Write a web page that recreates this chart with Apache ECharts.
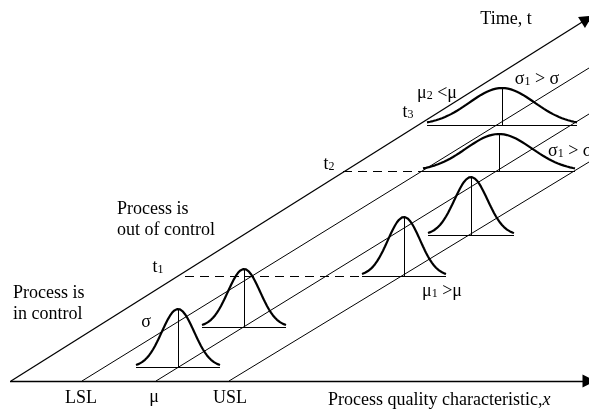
<!DOCTYPE html>
<html><head><meta charset="utf-8">
<script src="https://cdn.jsdelivr.net/npm/echarts@6/dist/echarts.min.js"></script>
<style>html,body{margin:0;padding:0;background:#fff}#c{width:589px;height:411px}</style>
</head><body><div id="c"></div>
<script>
// ---- diagram data (in the diagram's own coordinate units) ----
const xAxisLine = [[10, 381], [589, 381]];
const timeAxisLine = [[11, 381], [587, 19]];
const diagonalStarts = [[82, 381], [156, 381], [229, 381]];
const diagonalEnds = [[589, 68], [589, 114], [589, 162]];
// bell curves: centre, baseline, half-width, height
const curveCenters = [178, 244, 404, 471, 499, 502];
const curveBaselines = [367, 327, 276, 235, 171, 125];
const curveHalfWidths = [42, 42, 42, 43, 76, 75];
const curveHeights = [58, 58, 59, 58, 37, 37];
const curveSigmaRatio = [2.6, 2.6, 2.6, 2.6, 2.3, 2.3];
const dashedStarts = [[185, 276], [343, 171]];
const dashedEnds = [[362, 276], [423, 171]];

const FONT = 'Liberation Serif, Times New Roman, serif';
const chart = echarts.init(document.getElementById('c'), null, {renderer: 'canvas'});

function bell(i) {
  const c = curveCenters[i], b = curveBaselines[i], hw = curveHalfWidths[i], h = curveHeights[i];
  const s = hw / curveSigmaRatio[i];
  const pts = [];
  for (let x = c - hw; x <= c + hw + 0.01; x += 1) {
    pts.push([x, b - h * Math.exp(-0.5 * Math.pow((x - c) / s, 2))]);
  }
  return pts;
}

const series = [];
// axes with arrows
series.push({
  type: 'lines', coordinateSystem: 'cartesian2d', silent: true,
  symbol: ['none', 'triangle'], symbolSize: [8, 13],
  lineStyle: {color: '#000', width: 1.3, opacity: 1},
  data: [{coords: xAxisLine}, {coords: timeAxisLine}]
});
// parallel diagonals
series.push({
  type: 'lines', coordinateSystem: 'cartesian2d', silent: true,
  lineStyle: {color: '#000', width: 1, opacity: 1},
  data: diagonalStarts.map((s, i) => ({coords: [s, diagonalEnds[i]]}))
});
// baselines and centre verticals of each distribution
const thin = [];
curveCenters.forEach((c, i) => {
  const b = curveBaselines[i], hw = curveHalfWidths[i];
  thin.push({coords: [[c - hw, b], [c + hw, b]]});
  thin.push({coords: [[c, b], [c, b - curveHeights[i]]]});
});
series.push({
  type: 'lines', coordinateSystem: 'cartesian2d', silent: true,
  lineStyle: {color: '#000', width: 1, opacity: 1}, data: thin
});
// dashed time markers
series.push({
  type: 'lines', coordinateSystem: 'cartesian2d', silent: true,
  lineStyle: {color: '#000', width: 1, type: [9, 6], opacity: 1},
  data: dashedStarts.map((s, i) => ({coords: [s, dashedEnds[i]]}))
});
// bell curves
curveCenters.forEach((c, i) => {
  series.push({
    type: 'line', data: bell(i), showSymbol: false, smooth: false, silent: true,
    lineStyle: {color: '#000', width: 2.2}
  });
});

const rich = {
  a: {fontFamily: FONT, fontSize: 18, fill: '#000'},
  s: {fontFamily: FONT, fontSize: 12, fill: '#000', padding: [5, 0, 0, 0]}
};
function txt(text, x, y, align, vAlign) {
  return {type: 'text', x: x, y: y, silent: true,
    style: {text: text, rich: rich, font: '18px ' + FONT, fill: '#000',
      align: align || 'center', verticalAlign: vAlign || 'middle', lineHeight: 21}};
}
const graphics = [
  txt('{a|Time, t}', 506, 19),
  txt('{a|σ}{s|1}{a| > σ}', 537, 79),
  txt('{a|μ}{s|2}{a| <μ}', 437, 93),
  txt('{a|t}{s|3}', 408, 112),
  txt('{a|t}{s|2}', 329, 164),
  txt('{a|σ}{s|1}{a| > σ}', 548, 151, 'left'),
  txt('{a|Process is}\n{a|out of control}', 117, 220, 'left'),
  txt('{a|t}{s|1}', 158, 267),
  txt('{a|Process is}\n{a|in control}', 13, 304, 'left'),
  txt('{a|σ}', 146, 322),
  txt('{a|μ}{s|1}{a| >μ}', 442, 291),
  txt('{a|LSL}', 81, 398),
  txt('{a|μ}', 154, 397),
  txt('{a|USL}', 230, 398),
  {type: 'text', x: 328, y: 400, silent: true,
    style: {text: '{a|Process quality characteristic,}{i|x}',
      rich: {a: rich.a, i: {fontFamily: FONT, fontSize: 18, fontStyle: 'italic', fill: '#000'}},
      align: 'left', verticalAlign: 'middle'}}
];

chart.setOption({
  animation: false,
  backgroundColor: '#fff',
  grid: {left: 0, right: 0, top: 0, bottom: 0},
  xAxis: {type: 'value', min: 0, max: 589, show: false},
  yAxis: {type: 'value', min: 0, max: 411, inverse: true, show: false},
  series: series,
  graphic: graphics
});
</script></body></html>
